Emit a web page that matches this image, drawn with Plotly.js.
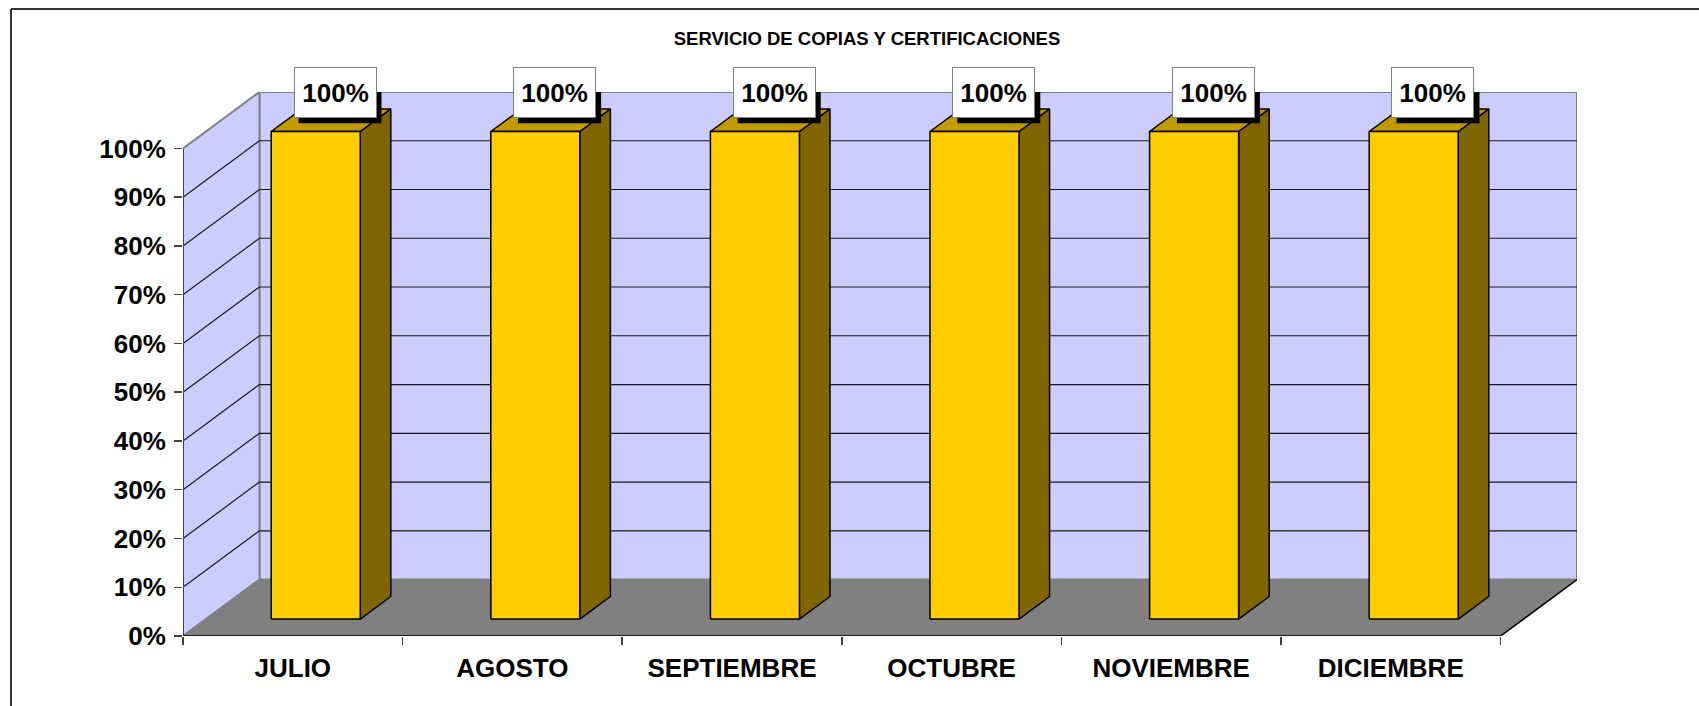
<!DOCTYPE html>
<html>
<head>
<meta charset="utf-8">
<script src="https://cdn.plot.ly/plotly-3.0.1.min.js"></script>
<style>
  html, body { margin: 0; padding: 0; background: #ffffff; }
  #chart { width: 1699px; height: 706px; }
</style>
</head>
<body>
<div id="chart"></div>
<script>
// ---- data ----
const categories = ['JULIO', 'AGOSTO', 'SEPTIEMBRE', 'OCTUBRE', 'NOVIEMBRE', 'DICIEMBRE'];
const values = [1.00, 1.00, 1.00, 1.00, 1.00, 1.00];
const yTickVals = [0, 0.1, 0.2, 0.3, 0.4, 0.5, 0.6, 0.7, 0.8, 0.9, 1.0];
const chartTitle = 'SERVICIO DE COPIAS Y CERTIFICACIONES';

// ---- 3D look (depth offsets in axis units) ----
const DX = 0.348, DY = 0.1158;      // wall depth
const F1 = 0.30, F2 = 0.70;         // bar front/back depth fraction
const HALF = 0.2027;                // bar half width
const X0 = -0.5, X1 = categories.length - 0.5;

const WALL = '#CCCCFF', FLOOR = '#808080';
const FRONT = '#FFCC00', TOP = '#C19A00', SIDE = '#806600';

const traces = [];
function poly(xs, ys, fill, lineColor, lineWidth) {
  traces.push({
    type: 'scatter', mode: 'lines', x: xs.concat([xs[0]]), y: ys.concat([ys[0]]),
    fill: 'toself', fillcolor: fill,
    line: { color: lineColor, width: lineWidth },
    hoverinfo: 'skip', showlegend: false
  });
}
function seg(xs, ys, color, width) {
  traces.push({
    type: 'scatter', mode: 'lines', x: xs, y: ys,
    line: { color: color, width: width },
    hoverinfo: 'skip', showlegend: false
  });
}

const yMax = yTickVals[yTickVals.length - 1];

// back wall
poly([X0 + DX, X1 + DX, X1 + DX, X0 + DX], [DY, DY, yMax + DY, yMax + DY], WALL, '#808080', 2);
// side wall
poly([X0, X0, X0 + DX, X0 + DX], [0, yMax, yMax + DY, DY], WALL, '#808080', 2);
// floor
poly([X0, X1, X1 + DX, X0 + DX], [0, 0, DY, DY], FLOOR, '#808080', 1);
seg([X0, X1, X1 + DX], [0, 0, DY], '#000000', 1.5);
// gridlines
yTickVals.forEach(function (v) {
  if (v === 0 || v === yMax) return;
  seg([X0, X0 + DX, X1 + DX], [v, v + DY, v + DY], '#1a1a1a', 1.2);
});
// left front edge
seg([X0, X0], [0, yMax], '#404040', 2);

// bars
values.forEach(function (v, i) {
  const xl = i - HALF, xr = i + HALF;
  const ax = F1 * DX, ay = F1 * DY, bx = F2 * DX, by = F2 * DY;
  poly([xr + ax, xr + bx, xr + bx, xr + ax], [ay, by, v + by, v + ay], SIDE, '#000000', 1.5);
  poly([xl + ax, xr + ax, xr + bx, xl + bx], [v + ay, v + ay, v + by, v + by], TOP, '#000000', 1.5);
  poly([xl + ax, xr + ax, xr + ax, xl + ax], [ay, ay, v + ay, v + ay], FRONT, '#000000', 1.5);
});

// data labels (white boxes) with black drop shadows
const annotations = [];
const shapes = [
  { type: 'line', xref: 'paper', yref: 'paper', x0: -0.1234, x1: 1.12, y0: 1.1526, y1: 1.1526,
    line: { color: '#333333', width: 2 } },
  { type: 'line', xref: 'paper', yref: 'paper', x0: -0.1234, x1: -0.1234, y0: 1.1526, y1: -0.2,
    line: { color: '#333333', width: 2 } }
];
const LBL_W = 83, LBL_H = 51, LBL_DX = 4, LBL_DY = 27.5, SH = 5;
values.forEach(function (v, i) {
  const ax = i + 0.5 * DX, ay = v + 0.5 * DY;
  shapes.push({
    type: 'rect', xref: 'x', yref: 'y', xsizemode: 'pixel', ysizemode: 'pixel',
    xanchor: ax, yanchor: ay, layer: 'above',
    x0: LBL_DX - LBL_W / 2 + SH, x1: LBL_DX + LBL_W / 2 + SH,
    y0: LBL_DY - LBL_H / 2 - SH, y1: LBL_DY + LBL_H / 2 - SH,
    fillcolor: '#000000', line: { width: 0 }
  });
  annotations.push({
    xref: 'x', yref: 'y', x: ax, y: ay,
    text: (v * 100).toFixed(0) + '%',
    showarrow: false, width: LBL_W - 8, height: LBL_H - 8, borderpad: 3, borderwidth: 1,
    xshift: LBL_DX, yshift: LBL_DY, bgcolor: '#ffffff', bordercolor: '#808080',
    font: { family: 'Liberation Sans, Arial, sans-serif', size: 26, color: '#000', weight: 'bold' }
  });
});

const layout = {
  width: 1699, height: 706, autosize: false,
  margin: { l: 183, r: 122, t: 92, b: 70, pad: 0 },
  paper_bgcolor: '#ffffff', plot_bgcolor: 'rgba(0,0,0,0)',
  showlegend: false,
  title: {
    text: chartTitle, xref: 'container', yref: 'container',
    x: 0.5103, y: 0.946, xanchor: 'center', yanchor: 'middle',
    font: { family: 'Liberation Sans, Arial, sans-serif', size: 18.5, color: '#000', weight: 'bold' }
  },
  xaxis: {
    range: [X0, X1 + DX], tickmode: 'array',
    tickvals: categories.map(function (c, i) { return i; }), ticktext: categories,
    ticks: '', showgrid: false, zeroline: false, showline: false, fixedrange: true,
    ticklabelstandoff: 14,
    tickfont: { family: 'Liberation Sans, Arial, sans-serif', size: 26, color: '#000', weight: 'bold' },
    minor: { tick0: X0, dtick: 1, ticks: 'outside', ticklen: 8, tickcolor: '#404040', tickwidth: 1.5, showgrid: false }
  },
  yaxis: {
    range: [0, yMax + DY], tickmode: 'array', tickvals: yTickVals, tickformat: '.0%',
    ticks: 'outside', ticklen: 8, tickcolor: '#404040', tickwidth: 1.5,
    showgrid: false, zeroline: false, showline: false, fixedrange: true,
    ticklabelstandoff: 3,
    tickfont: { family: 'Liberation Sans, Arial, sans-serif', size: 26, color: '#000', weight: 'bold' }
  },
  annotations: annotations,
  shapes: shapes
};

Plotly.newPlot('chart', traces, layout, { staticPlot: true, displayModeBar: false });
</script>
</body>
</html>
